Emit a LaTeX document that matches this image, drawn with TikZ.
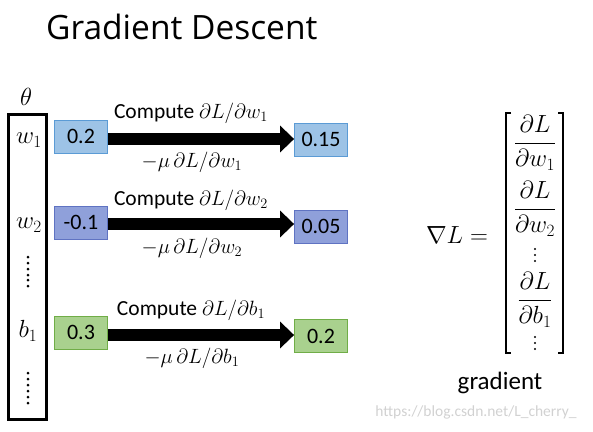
\documentclass[tikz,border=0pt]{standalone}
\usepackage{amsmath}
\usepackage{fontspec}
\setmainfont{Carlito}
\newfontfamily\titlefont{Open Sans}
\usetikzlibrary{arrows.meta}
\definecolor{blueF}{HTML}{9DC3E6}
\definecolor{blueD}{HTML}{5B9BD5}
\definecolor{purpF}{HTML}{8FA0DA}
\definecolor{purpD}{HTML}{5F73C2}
\definecolor{greenF}{HTML}{A9D18E}
\definecolor{greenD}{HTML}{70AD47}
\tikzset{
  valbox/.style={draw=#1D, fill=#1F, line width=0.8bp, minimum width=53bp, minimum height=33bp, inner sep=0pt, font=\fontsize{22bp}{26bp}\selectfont},
  fatarrow/.style={line width=12bp, -{Triangle[length=14bp,width=26bp]}},
  lbl/.style={font=\fontsize{21.5bp}{26bp}\selectfont, inner sep=0pt},
  mlbl/.style={font=\fontsize{20bp}{24bp}\selectfont, inner sep=0pt},
  vlbl/.style={font=\fontsize{24bp}{28bp}\selectfont, inner sep=0pt},
  frac/.style={font=\fontsize{26bp}{30bp}\selectfont, inner sep=0pt},
  vdot/.style={fill=black, draw=none}
}
\begin{document}
\begin{tikzpicture}[x=1bp,y=-1bp]
\useasboundingbox (0,0) rectangle (593,431);
% title
\node[anchor=base west, inner sep=0pt, font=\titlefont\fontsize{33.5bp}{38bp}\selectfont] (title) at (46,39) {Gradient Descent};
% parameter vector
\node[vlbl] (theta) at (26,97) {$\theta$};
\draw[line width=3bp] (8,114) rectangle (46,419);
\node[vlbl] (w1) at (29,140) {$w_1$};
\node[vlbl] (w2) at (29,225) {$w_2$};
\node[vlbl] (b1) at (28,331) {$b_1$};
\foreach \y in {257,263,269,275,280,286} \fill[vdot] (28,\y) circle (1.5bp);
\foreach \y in {373,379,385,391,397,403} \fill[vdot] (28,\y) circle (1.5bp);
% row 1
\node[valbox=blue] (a1) at (81,136.5) {0.2};
\node[valbox=blue] (c1) at (321,139.5) {0.15};
\draw[fatarrow] (a1.east |- 0,139) -- (c1.west |- 0,139);
\node[lbl] (t1) at (191,113) {Compute $\partial L/\partial w_1$};
\node[mlbl] (u1) at (192,162) {$-\mu\,\partial L/\partial w_1$};
% row 2
\node[valbox=purp] (a2) at (81,222.5) {-0.1};
\node[valbox=purp] (c2) at (321,226.5) {0.05};
\draw[fatarrow] (a2.east |- 0,224) -- (c2.west |- 0,224);
\node[lbl] (t2) at (191,200) {Compute $\partial L/\partial w_2$};
\node[mlbl] (u2) at (192,248) {$-\mu\,\partial L/\partial w_2$};
% row 3
\node[valbox=green] (a3) at (81,332.5) {0.3};
\node[valbox=green] (c3) at (321,336) {0.2};
\draw[fatarrow] (a3.east |- 0,335) -- (c3.west |- 0,335);
\node[lbl] (t3) at (191,310) {Compute $\partial L/\partial b_1$};
\node[mlbl] (u3) at (192,358) {$-\mu\,\partial L/\partial b_1$};
% gradient
\node[frac, font=\fontsize{24bp}{28bp}\selectfont] (nabla) at (457,235) {$\nabla L =$};
\node[frac, anchor=base] (f1) at (535,149.5) {$\dfrac{\partial L}{\partial w_1}$};
\node[frac, anchor=base] (f2) at (535,215.5) {$\dfrac{\partial L}{\partial w_2}$};
\foreach \y in {249,255,261} \fill[vdot] (535,\y) circle (1.2bp);
\node[frac, anchor=base] (f3) at (535,306.5) {$\dfrac{\partial L}{\partial b_1}$};
\foreach \y in {337,343,349} \fill[vdot] (535,\y) circle (1.2bp);
\draw[line width=1.5bp] (511,113) -- (506,113) -- (506,353) -- (511,353);
\draw[line width=1.5bp] (558,113) -- (563,113) -- (563,353) -- (558,353);
\node[lbl, font=\fontsize{25bp}{28bp}\selectfont] (grad) at (500,383) {gradient};
\node[inner sep=0pt, text=black!18, font=\fontsize{15.5bp}{18bp}\selectfont] (wm) at (476,412) {https://blog.csdn.net/L\_cherry\_};
\end{tikzpicture}
\end{document}
